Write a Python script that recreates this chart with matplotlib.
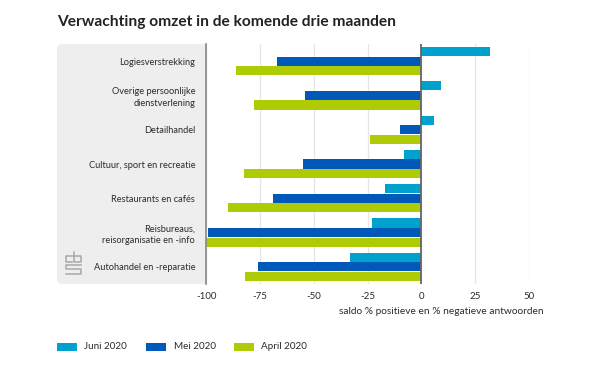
import matplotlib
matplotlib.use('Agg')
import matplotlib.pyplot as plt
from matplotlib.patches import FancyBboxPatch, Rectangle
import numpy as np

categories = ['Logiesverstrekking', 'Overige persoonlijke\ndienstverlening', 'Detailhandel',
              'Cultuur, sport en recreatie', 'Restaurants en cafés',
              'Reisbureaus,\nreisorganisatie en -info', 'Autohandel en -reparatie']
juni = [32, 9, 6, -8, -17, -23, -33]
mei = [-67, -54, -10, -55, -69, -99, -76]
april = [-86, -78, -24, -82.5, -90, -100, -82]
series_names = ['Juni 2020', 'Mei 2020', 'April 2020']
series_colors = ['#00a1cd', '#0058b8', '#afcb05']
x_ticks = [-100, -75, -50, -25, 0, 25, 50]

W, H = 600, 369
TEXT = '#2b2b2b'
PANEL = '#eeeeee'
plt.rcParams['font.family'] = ['Lato', 'DejaVu Sans']


def fx(px):
    return px / W


def fy(py):
    return 1 - py / H


def main():
    fig = plt.figure(figsize=(W / 100, H / 100), dpi=100, facecolor='white')

    # grey panel behind the category labels, rounded on the left only
    fig.patches.append(FancyBboxPatch((57, H - 284), 100, 240, boxstyle='round,pad=0,rounding_size=5',
                                      facecolor=PANEL, edgecolor='none', transform=None, zorder=-2))
    fig.patches.append(Rectangle((120, H - 284), 86.5, 240, facecolor=PANEL, edgecolor='none',
                                 transform=None, zorder=-2))

    ax = fig.add_axes([fx(206.3), fy(284), fx(528.8) - fx(206.3), (284 - 44) / H])
    ax.patch.set_alpha(0)
    y = np.arange(len(categories))
    h = 9.2 / 34.33
    for vals, off, c in zip((juni, mei, april), (-1, 0, 1), series_colors):
        ax.barh(y + off * (h + 0.012), vals, height=h, color=c, zorder=3)

    ax.set_xlim(-100, 50)
    ax.set_ylim(len(categories) - 0.5, -0.5)
    ax.set_xticks(x_ticks)
    ax.set_xticklabels([str(t) for t in x_ticks], fontsize=7, color=TEXT)
    ax.set_yticks(y)
    ax.set_yticklabels(categories, fontsize=6.7, color=TEXT, ha='right', linespacing=1.4)
    ax.tick_params(axis='x', length=0, pad=6)
    ax.tick_params(axis='y', length=0, pad=8)
    ax.grid(axis='x', color='#e6e6e6', linewidth=0.9, zorder=0)
    for s in ax.spines.values():
        s.set_visible(False)
    ax.axvline(0, color='#666666', linewidth=1.3, zorder=4)
    ax.axvline(-100, color='#888888', linewidth=1.2, zorder=4, clip_on=False)

    fig.text(fx(57), fy(22), 'Verwachting omzet in de komende drie maanden', fontsize=11.2, fontweight='bold',
             color='#222222', va='center', ha='left')
    fig.text(fx(544), fy(312), 'saldo % positieve en % negatieve antwoorden', fontsize=7.25, color=TEXT,
             va='center', ha='right')

    # legend
    for name, c, px, tx in zip(series_names, series_colors, (56.7, 145.5, 233.5), (84, 173.5, 261)):
        fig.patches.append(Rectangle((px, H - 351), 20, 8, facecolor=c, edgecolor='none', transform=None))
        fig.text(fx(tx), fy(346.5), name, fontsize=7.1, color=TEXT, va='center', ha='left')

    # cbs logo
    logo = [((72, 256), (66, 256), (66, 262), (72, 262)),
            ((74, 252), (74, 262), (81, 262), (81, 256), (74, 256)),
            ((81, 265), (66, 265), (66, 269), (81, 269), (81, 274), (66, 274))]
    for pts in logo:
        xs = [fx(p[0]) for p in pts]
        ys = [fy(p[1]) for p in pts]
        fig.add_artist(plt.Line2D(xs, ys, color='#a8a8a8', linewidth=1.1))

    fig.savefig('out.png', dpi=100)


if __name__ == '__main__':
    main()
